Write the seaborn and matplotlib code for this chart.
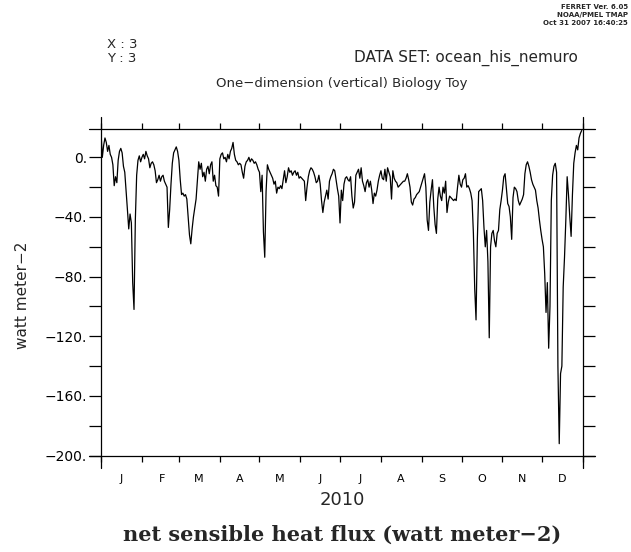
import numpy as np
import pandas as pd
import matplotlib
matplotlib.use("Agg")
import matplotlib.pyplot as plt
import matplotlib.dates as mdates
from matplotlib.ticker import MultipleLocator, FuncFormatter, NullFormatter
from matplotlib.lines import Line2D
import seaborn as sns

# ---- data: daily net sensible heat flux (watt meter-2), year 2010 ----
jan = [17, 0, 8, 13, 10, 4, 8, 2, 0, -5, -19, -13, -17, -2, 4, 6, 3, -6, -10, -22,
       -35, -48, -38, -44, -84, -102, -42, -12, -2, 1, -3]
feb = [0, 2, -1, 4, 1, -1, -7, -4, -3, -5, -9, -17, -15, -12, -16, -13, -12, -16, -18, -20,
       -47, -35, -18, -4, 3, 5, 7, 4]
mar = [-2, -15, -25, -24, -26, -25, -28, -40, -52, -58, -48, -40, -34, -28, -15, -3, -8, -4, -13, -10,
       -16, -8, -6, -11, -5, -3, -16, -12, -19, -20, -26]
apr = [-1, 2, 3, -1, 0, -3, 2, -1, 4, 6, 10, 2, -2, -3, -5, -4, -5, -10, -14, -6,
       -3, -2, 0, -3, -1, -2, -4, -3, -5, -8]
may = [-10, -23, -12, -50, -67, -23, -5, -8, -10, -12, -14, -18, -16, -24, -20, -21, -19, -21, -15, -9,
       -17, -13, -7, -10, -9, -12, -10, -9, -12, -10, -14]
jun = [-13, -14, -15, -16, -29, -20, -13, -9, -7, -8, -10, -13, -17, -16, -12, -18, -29, -37, -30, -26,
       -22, -28, -16, -13, -11, -8, -9, -15, -21, -26]
jul = [-44, -22, -29, -18, -14, -13, -15, -16, -13, -26, -34, -30, -12, -10, -8, -14, -7, -16, -19, -23,
       -17, -15, -20, -16, -22, -31, -24, -26, -22, -16, -12]
aug = [-9, -14, -15, -8, -16, -7, -10, -13, -28, -9, -14, -16, -17, -20, -19, -18, -17, -16, -16, -14,
       -11, -15, -20, -30, -32, -28, -27, -25, -24, -23, -20]
sep = [-17, -14, -11, -20, -42, -49, -30, -22, -15, -33, -45, -51, -28, -20, -26, -29, -20, -24, -16, -37,
       -30, -26, -27, -28, -29, -28, -29, -20, -12, -18]
oct_ = [-20, -15, -14, -11, -20, -19, -21, -24, -29, -51, -88, -109, -55, -23, -22, -21, -29, -47, -60, -49,
        -70, -121, -60, -51, -49, -56, -60, -51, -49, -35, -29]
nov = [-22, -13, -11, -21, -31, -33, -40, -55, -27, -20, -21, -23, -29, -32, -30, -28, -25, -11, -5, -3,
       -6, -10, -15, -18, -20, -22, -29, -34, -42, -49]
dec = [-55, -60, -78, -104, -84, -128, -100, -29, -12, -6, -4, -10, -140, -192, -145, -140, -87, -67, -42, -13,
       -25, -40, -53, -25, -4, 3, 8, 5, 13, 16, 18]

month_letters = ["J", "F", "M", "A", "M", "J", "J", "A", "S", "O", "N", "D"]
y_ticks = [0, -40, -80, -120, -160, -200]

flux = jan + feb + mar + apr + may + jun + jul + aug + sep + oct_ + nov + dec
dates = pd.date_range("2010-01-01", periods=len(flux), freq="D")
df = pd.DataFrame({"date": dates, "flux": flux})

sns.set_style("ticks")
plt.rcParams['font.family'] = ['DejaVu Sans']
plt.rcParams['axes.unicode_minus'] = True

W, H = 631, 552
fig = plt.figure(figsize=(W / 100, H / 100), dpi=100)
L, R, T, B = 101, 583, 129, 455.6
ax = fig.add_axes([L / W, 1 - B / H, (R - L) / W, (B - T) / H])

sns.lineplot(data=df, x="date", y="flux", ax=ax, color="black", linewidth=0.9, estimator=None)
ax.set_xlim(pd.Timestamp("2010-01-01"), pd.Timestamp("2011-01-01"))
ax.set_ylim(-200, 19)

# x axis: month boundaries ticked, letters centred in months
ax.xaxis.set_major_locator(mdates.MonthLocator())
ax.xaxis.set_major_formatter(NullFormatter())
ax.xaxis.set_minor_locator(mdates.MonthLocator(bymonthday=16))
ax.xaxis.set_minor_formatter(FuncFormatter(lambda v, p: month_letters[mdates.num2date(v).month - 1]))
ax.tick_params(axis='x', which='major', direction='out', length=4.5, width=0.9,
               top=True, bottom=True, colors='black')
ax.tick_params(axis='x', which='minor', length=0, pad=13, labelsize=8, labelcolor='black')

# y axis
ax.yaxis.set_major_locator(MultipleLocator(20))
def yfmt(v, p):
    iv = int(round(v))
    if iv in y_ticks:
        return f"{iv}.".replace("-", "\u2212")
    return ""
ax.yaxis.set_major_formatter(FuncFormatter(yfmt))
ax.tick_params(axis='y', which='major', direction='out', length=8.6, width=0.9,
               left=True, right=True, labelsize=10, pad=1.5, colors='black')

for s in ax.spines.values():
    s.set_visible(False)

ex = 12 / (R - L)
ey = 12 / (B - T)
frame = [([0, 0], [-ey, 1 + ey]), ([1, 1], [-ey, 1 + ey]),
         ([-ex, 1 + ex], [1, 1]), ([-ex, 1 + ex], [0, 0])]
for xs, ys in frame:
    ax.add_line(Line2D(xs, ys, transform=ax.transAxes, color='black', lw=0.9, clip_on=False))

ax.set_xlabel("2010", fontsize=13)
ax.xaxis.label.set_va('center')
ax.xaxis.set_label_coords(0.5, (B - 500) / (B - T))
ax.set_ylabel("watt meter\u22122", fontsize=11)
ax.yaxis.label.set_va('center')
ax.yaxis.set_label_coords((23 - L) / (R - L), (B - 295) / (B - T))

# header texts
fig.text(628 / W, 1 - 7 / H, "FERRET Ver. 6.05", ha='right', va='center', fontsize=5, fontweight='bold')
fig.text(628 / W, 1 - 15 / H, "NOAA/PMEL TMAP", ha='right', va='center', fontsize=5, fontweight='bold')
fig.text(628 / W, 1 - 23 / H, "Oct 31 2007 16:40:25", ha='right', va='center', fontsize=5, fontweight='bold')
fig.text(107 / W, 1 - 45 / H, "X : 3", ha='left', va='center', fontsize=9.5)
fig.text(107 / W, 1 - 58 / H, "Y : 3", ha='left', va='center', fontsize=9.5)
fig.text(578 / W, 1 - 58 / H, "DATA SET: ocean_his_nemuro", ha='right', va='center', fontsize=11)
fig.text(342 / W, 1 - 84 / H, "One\u2212dimension (vertical) Biology Toy", ha='center', va='center', fontsize=9.5)
fig.text(342 / W, 1 - 535 / H, "net sensible heat flux (watt meter\u22122)", ha='center', va='center',
         fontsize=15, fontweight='bold', family='DejaVu Serif')

fig.savefig("out.png", dpi=100, facecolor='white')
